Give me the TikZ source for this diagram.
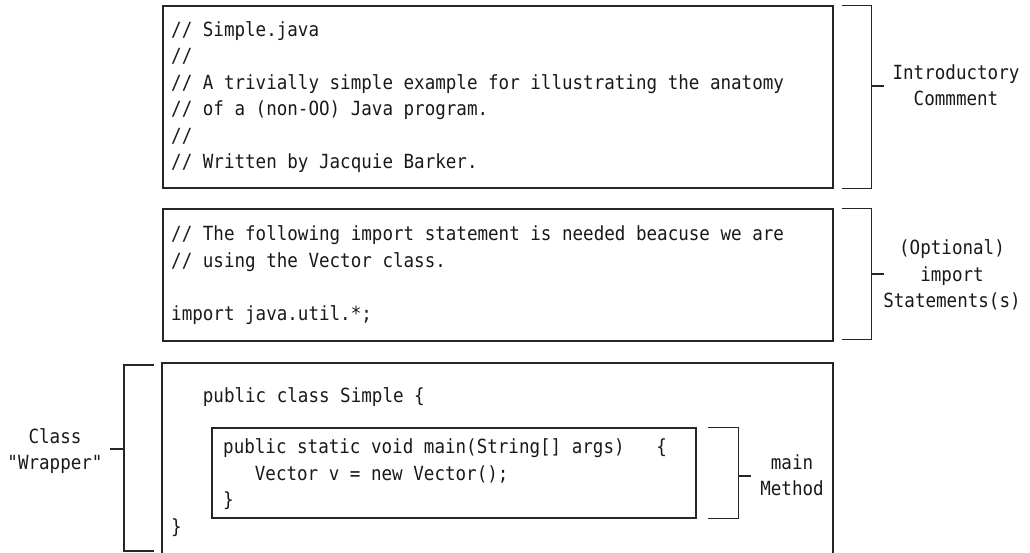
\documentclass[tikz,border=0pt]{standalone}
\usepackage{fontspec}
\usepackage{tikz}
\usepackage{xcolor}
\newfontfamily\codefont[FakeStretch=0.9]{DejaVu Sans Mono}
\newcommand{\codesize}{\codefont\fontsize{19.5pt}{26.5pt}\selectfont}
\tikzset{
  codebox/.style={draw=black!85, line width=1.1pt, inner sep=0pt},
  codetext/.style={font=\codesize, text=black!90, align=left, inner sep=0pt, anchor=west},
  notetext/.style={font=\codesize, text=black!90, align=center, inner sep=0pt},
  brace/.style={draw=black!85, line width=1.1pt},
}

\begin{document}
\begin{tikzpicture}[x=1pt,y=-1pt]
            \useasboundingbox (0,0) rectangle (1030,552);
            % the code blocks
            \node[codebox, minimum width=670pt, minimum height=182pt] (intro) at (498,97) {};
            \node[codebox, minimum width=670pt, minimum height=132pt] (imports) at (498,275) {};
            \node[codebox, minimum width=671pt, minimum height=193pt] (wrapper) at (497.5,459.5) {};
            \node[codebox, minimum width=484pt, minimum height=90pt] (mainbox) at (454,473) {};

            \node[codetext] (introtxt) at (171,97) {// Simple.java\\//\\// A trivially simple example for illustrating the anatomy\\// of a (non-OO) Java program.\\//\\// Written by Jacquie Barker.};
            \node[codetext] (importtxt) at (171,275) {// The following import statement is needed beacuse we are\\// using the Vector class.\\\mbox{}\\import java.util.*;};
            \node[codetext] (classhead) at (171,397) {\phantom{000}public class Simple \{};
            \node[codetext] (classend) at (171,528) {\}};
            \node[codetext, text depth=0pt] (maintxt) at (223,473) {public static void main(String[] args)\phantom{000}\{\\\phantom{000}Vector v = new Vector();\\\}};

            % brackets and their labels
            \node[notetext] (introlbl) at (956,85) {Introductory\\Commment};
            \node[notetext] (importlbl) at (952,275) {(Optional)\\import\\Statements(s)};
            \node[notetext] (classlbl) at (55,451) {Class\\"Wrapper"};
            \node[notetext] (mainlbl) at (792,475) {main\\Method};

            \draw[brace] ([xshift=8pt]intro.north east) -- ++(30,0) |- ([xshift=8pt]intro.south east);
            \draw[brace] ([xshift=8pt]imports.north east) -- ++(30,0) |- ([xshift=8pt,yshift=2pt]imports.south east);
            \draw[brace] (154,365) -- (124,365) -- (124,551) -- (154,551);
            \draw[brace] ([xshift=11pt]mainbox.north east) -- ++(31,0) |- ([xshift=11pt]mainbox.south east);

            \coordinate (introtick) at (871,86);
            \coordinate (importtick) at (871,274);
            \coordinate (classtick) at (124,449);
            \coordinate (maintick) at (738,476);
            \draw[brace] (introtick) -- ++(13,0);
            \draw[brace] (importtick) -- ++(13,0);
            \draw[brace] (classtick) -- ++(-14,0);
            \draw[brace] (maintick) -- ++(13,0);
        \end{tikzpicture}
\end{document}
